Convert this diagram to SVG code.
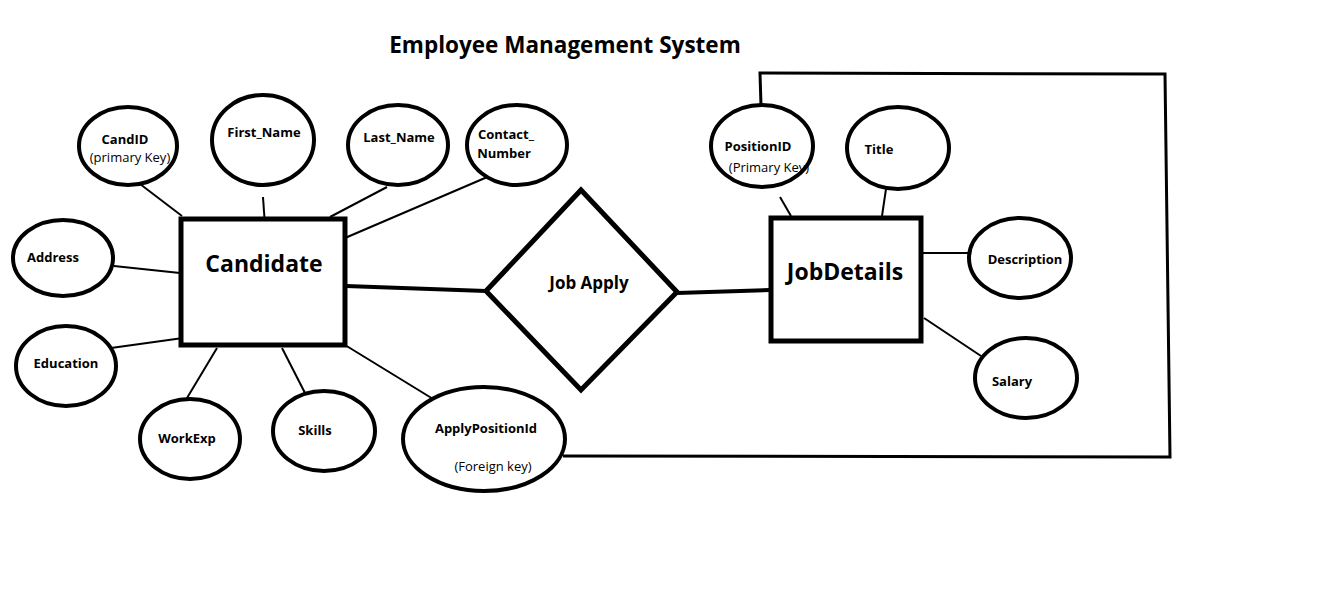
<svg xmlns="http://www.w3.org/2000/svg" width="1324" height="591" viewBox="0 0 1324 591">
<style>
.bg{fill:#fff}
.attr{fill:#fff;stroke:#000;stroke-width:4}
.ent{fill:#fff;stroke:#000;stroke-width:5}
.rel{fill:#fff;stroke:#000;stroke-width:5;stroke-linejoin:miter}
.ln{stroke:#000;stroke-width:2;fill:none}
.thick{stroke:#000;stroke-width:4;fill:none}
.loop{stroke:#000;stroke-width:3;fill:none}
text{font-family:"Open Sans","Noto Sans","DejaVu Sans",sans-serif;fill:#000;text-anchor:middle}
.t{font-size:13px;font-weight:bold}
.s{font-size:13px;font-weight:normal}
.big{font-size:23px;font-weight:bold}
.mid{font-size:17px;font-weight:bold}
.title{font-size:22.5px;font-weight:bold}
</style>
<rect class="bg" x="0" y="0" width="1324" height="591"/>
<text class="title" x="565" y="53">Employee Management System</text>

<g id="connectors">
<line class="ln" x1="140" y1="184" x2="182" y2="216"/>
<line class="ln" x1="263" y1="197" x2="265" y2="226"/>
<line class="ln" x1="387" y1="187" x2="330" y2="217"/>
<line class="ln" x1="492" y1="175" x2="345" y2="238"/>
<line class="ln" x1="114" y1="266" x2="180" y2="273"/>
<line class="ln" x1="111" y1="348" x2="183" y2="338"/>
<line class="ln" x1="187" y1="398" x2="217" y2="348"/>
<line class="ln" x1="305" y1="393" x2="282" y2="348"/>
<line class="ln" x1="345" y1="345" x2="438" y2="402"/>
<line class="thick" x1="346" y1="286" x2="486" y2="291"/>
<line class="thick" x1="677" y1="293" x2="770" y2="290"/>
<line class="ln" x1="780" y1="197" x2="791" y2="216"/>
<line class="ln" x1="886" y1="189" x2="882" y2="216"/>
<line class="ln" x1="922" y1="253" x2="969" y2="253"/>
<line class="ln" x1="924" y1="318" x2="981" y2="356"/>
<polyline class="loop" points="761,106 760,73 1165,74 1170,457 563,456"/>
</g>

<g id="candidate">
<rect class="ent" x="181" y="219" width="164" height="126"/>
<text class="big" x="264" y="272">Candidate</text>
</g>

<g id="jobapply">
<polygon class="rel" points="581,190 677,292 581,390 486,291"/>
<text class="mid" x="589" y="289">Job Apply</text>
</g>

<g id="jobdetails">
<rect class="ent" x="771" y="218" width="150" height="123"/>
<text class="big" x="845" y="280">JobDetails</text>
</g>

<g id="candid">
<ellipse class="attr" cx="128" cy="146" rx="49" ry="39"/>
<text class="t" x="125" y="144">CandID</text>
<text class="s" x="130" y="162">(primary Key)</text>
</g>
<g id="firstname">
<ellipse class="attr" cx="263" cy="140" rx="51" ry="45"/>
<text class="t" x="264" y="137">First_Name</text>
</g>
<g id="lastname">
<ellipse class="attr" cx="398" cy="145" rx="50" ry="40"/>
<text class="t" x="399" y="142">Last_Name</text>
</g>
<g id="contact">
<ellipse class="attr" cx="517" cy="145" rx="50" ry="40"/>
<text class="t" x="506" y="139">Contact_</text>
<text class="t" x="504" y="158">Number</text>
</g>
<g id="address">
<ellipse class="attr" cx="63" cy="258" rx="50" ry="38"/>
<text class="t" x="53" y="262">Address</text>
</g>
<g id="education">
<ellipse class="attr" cx="66" cy="366" rx="50" ry="40"/>
<text class="t" x="66" y="368">Education</text>
</g>
<g id="workexp">
<ellipse class="attr" cx="190" cy="439" rx="50" ry="40"/>
<text class="t" x="187" y="443">WorkExp</text>
</g>
<g id="skills">
<ellipse class="attr" cx="324" cy="431" rx="51" ry="40"/>
<text class="t" x="315" y="435">Skills</text>
</g>
<g id="applypositionid">
<ellipse class="attr" cx="484" cy="439" rx="81" ry="52"/>
<text class="t" x="486" y="433">ApplyPositionId</text>
<text class="s" x="493" y="471">(Foreign key)</text>
</g>
<g id="positionid">
<ellipse class="attr" cx="762" cy="146" rx="51" ry="41"/>
<text class="t" x="758" y="151">PositionID</text>
<text class="s" x="769" y="172">(Primary Key)</text>
</g>
<g id="title">
<ellipse class="attr" cx="898" cy="148" rx="51" ry="41"/>
<text class="t" x="879" y="154">Title</text>
</g>
<g id="description">
<ellipse class="attr" cx="1020" cy="258" rx="51" ry="40"/>
<text class="t" x="1025" y="264">Description</text>
</g>
<g id="salary">
<ellipse class="attr" cx="1026" cy="378" rx="51" ry="40"/>
<text class="t" x="1012" y="386">Salary</text>
</g>
</svg>
